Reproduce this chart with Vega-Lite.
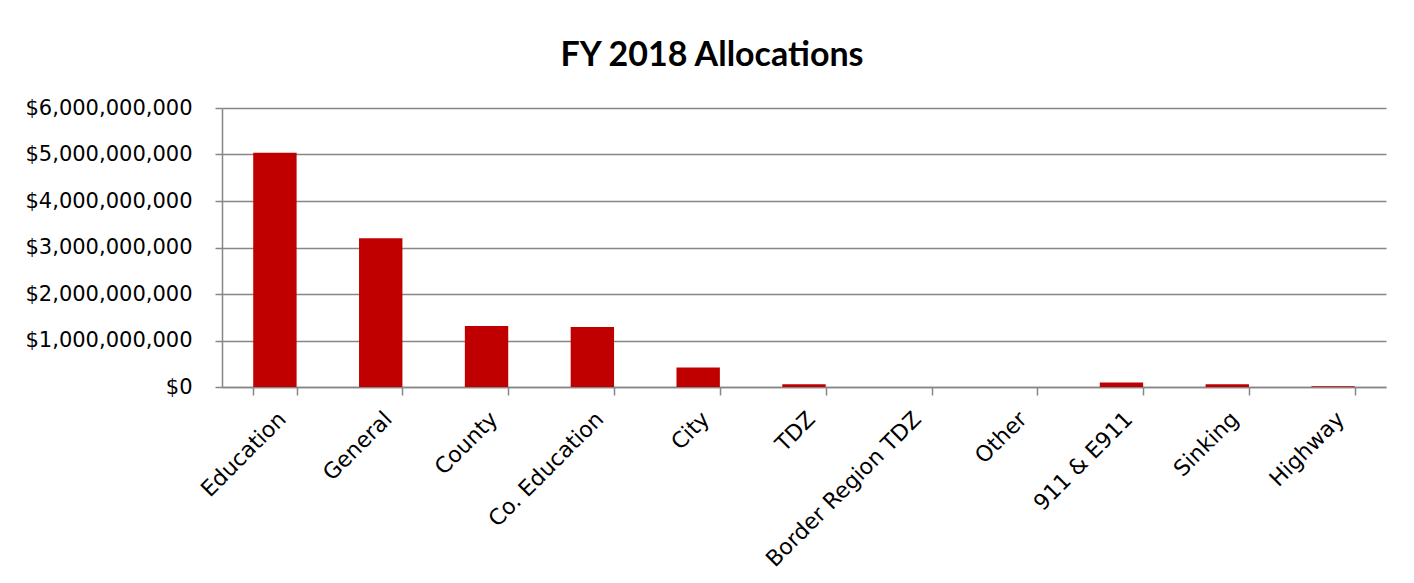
{
  "$schema": "https://vega.github.io/schema/vega-lite/v6.json",
  "width": 1164,
  "height": 279,
  "autosize": {"type": "none"},
  "padding": {"left": 222, "top": 108, "right": 28, "bottom": 196},
  "background": "white",
  "title": {
    "text": "FY 2018 Allocations",
    "fontSize": 34,
    "font": "Lato",
    "fontWeight": "bold",
    "color": "#000000",
    "anchor": "middle",
    "dx": -92,
    "offset": 24
  },
  "data": {
    "values": [
      {"category": "Education", "amount": 5040000000},
      {"category": "General", "amount": 3200000000},
      {"category": "County", "amount": 1310000000},
      {"category": "Co. Education", "amount": 1290000000},
      {"category": "City", "amount": 420000000},
      {"category": "TDZ", "amount": 60000000},
      {"category": "Border Region TDZ", "amount": 0},
      {"category": "Other", "amount": 0},
      {"category": "911 & E911", "amount": 95000000},
      {"category": "Sinking", "amount": 60000000},
      {"category": "Highway", "amount": 15000000}
    ]
  },
  "mark": {"type": "bar", "color": "#C00000"},
  "encoding": {
    "x": {
      "field": "category",
      "type": "nominal",
      "sort": null,
      "title": null,
      "scale": {"paddingInner": 0.59, "paddingOuter": 0.295},
      "axis": {
        "labelAngle": -45,
        "labelFontSize": 22,
        "labelFont": "DejaVu Sans",
        "labelColor": "#000000",
        "labelPadding": 13,
        "labelLimit": 500,
        "labelOverlap": false,
        "tickBand": "extent",
        "tickSize": 8,
        "tickColor": "#868686",
        "tickWidth": 1.5,
        "domainColor": "#868686",
        "domainWidth": 1.5
      }
    },
    "y": {
      "field": "amount",
      "type": "quantitative",
      "title": null,
      "scale": {"domain": [0, 6000000000], "nice": false},
      "axis": {
        "values": [0, 1000000000, 2000000000, 3000000000, 4000000000, 5000000000, 6000000000],
        "format": "$,.0f",
        "labelFontSize": 21,
        "labelFont": "DejaVu Sans",
        "labelColor": "#000000",
        "labelPadding": 23,
        "tickSize": 7,
        "tickColor": "#868686",
        "tickWidth": 1.5,
        "domainColor": "#868686",
        "domainWidth": 1.5,
        "gridColor": "#868686",
        "gridWidth": 1.5
      }
    }
  },
  "config": {"view": {"stroke": null}}
}
